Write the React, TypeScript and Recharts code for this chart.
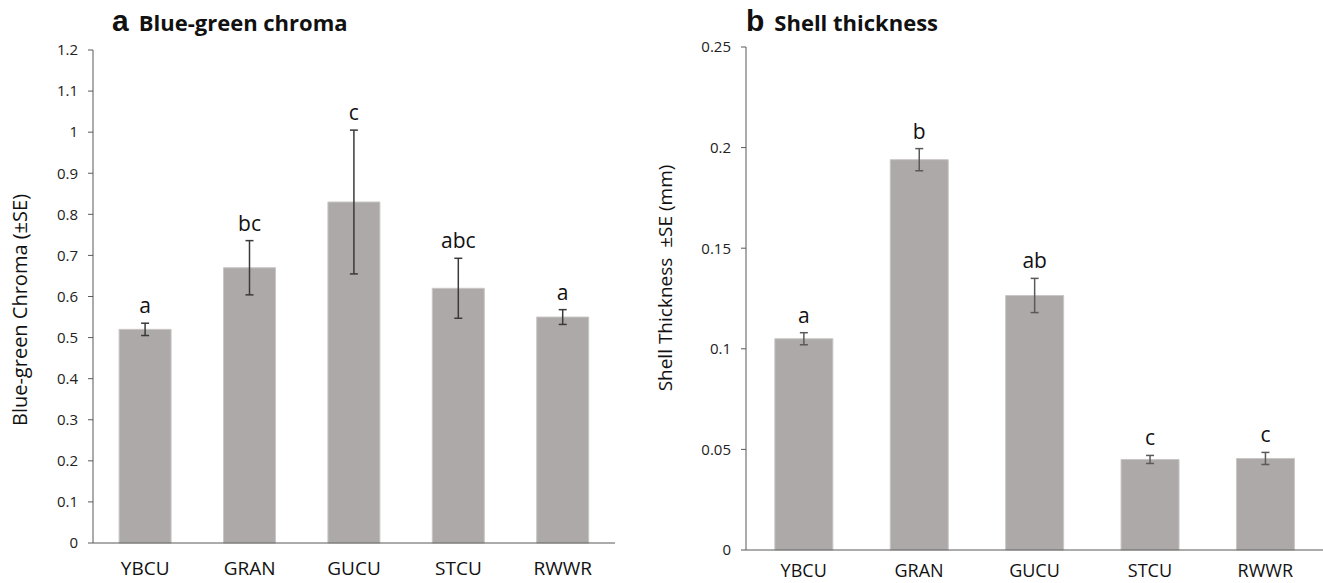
import { BarChart, Bar, XAxis, YAxis, ErrorBar, LabelList } from 'recharts';

const species = ['YBCU', 'GRAN', 'GUCU', 'STCU', 'RWWR'];

const chromaMean = [0.52, 0.67, 0.83, 0.62, 0.55];
const chromaSE = [0.015, 0.066, 0.175, 0.073, 0.018];
const chromaLetters = ['a', 'bc', 'c', 'abc', 'a'];
const chromaTicks = [0, 0.1, 0.2, 0.3, 0.4, 0.5, 0.6, 0.7, 0.8, 0.9, 1, 1.1, 1.2];

const shellMean = [0.105, 0.194, 0.1265, 0.045, 0.0455];
const shellSE = [0.003, 0.0055, 0.0085, 0.002, 0.003];
const shellLetters = ['a', 'b', 'ab', 'c', 'c'];
const shellTicks = [0, 0.05, 0.1, 0.15, 0.2, 0.25];

const FONT = '"Open Sans", "Noto Sans", sans-serif';
const BAR = '#ada9a8';
const AXIS = '#595959';

const chromaData = species.map((name, i) => ({
  name,
  v: chromaMean[i],
  se: chromaSE[i],
  letter: chromaLetters[i]
}));

const shellData = species.map((name, i) => ({
  name,
  v: shellMean[i],
  se: shellSE[i],
  letter: shellLetters[i]
}));

const fmt = (v: number) => String(Number(v.toFixed(2)));

// letter sits just above the error bar cap
function letterLabel(rows: any[]) {
  return (props: any) => {
    const { x, y, width, height, index } = props;
    const row = rows[index];
    if (!row) return null;
    const pxPerUnit = height / row.v;
    const top = y - row.se * pxPerUnit;
    return (
      <text
        x={x + width / 2}
        y={top - 10}
        textAnchor="middle"
        fontSize={21}
        fontFamily={FONT}
        fill="#111"
      >
        {row.letter}
      </text>
    );
  };
}

function Panel({ data, ticks, top, right, xTickMargin, xHeight, yWidth, width, errColor, border, xFont }: any) {
  const max = ticks[ticks.length - 1];
  return (
    <BarChart
      width={width}
      height={583}
      data={data}
      margin={{ top, right, bottom: 0, left: 0 }}
      barCategoryGap="25%"
    >
      <XAxis
        dataKey="name"
        height={xHeight}
        tickLine={false}
        tickSize={0}
        tickMargin={xTickMargin}
        stroke={AXIS}
        tick={{ fill: '#111', fontSize: xFont, fontFamily: FONT }}
      />
      <YAxis
        width={yWidth}
        domain={[0, max]}
        ticks={ticks}
        tickFormatter={fmt}
        tickSize={5}
        tickMargin={10}
        stroke={AXIS}
        tick={{ fill: '#222', fontSize: 15, fontFamily: FONT }}
      />
      <XAxis xAxisId="top" orientation="top" dataKey="name" height={0} tick={false} tickLine={false} stroke={AXIS} />
      {border && (
        <YAxis yAxisId="right" orientation="right" width={0} domain={[0, max]} tick={false} tickLine={false} stroke={AXIS} />
      )}
      <Bar dataKey="v" fill={BAR} stroke="#c9c6c5" strokeWidth={1} isAnimationActive={false}>
        <ErrorBar dataKey="se" width={4} strokeWidth={1.5} stroke={errColor} />
        <LabelList dataKey="letter" content={letterLabel(data)} />
      </Bar>
    </BarChart>
  );
}

export default function App() {
  return (
    <div style={{ position: 'absolute', left: 0, top: 0, width: 1323, height: 583, background: '#fff', fontFamily: FONT }}>
      <div style={{ position: 'absolute', left: 0, top: 0 }}>
        <Panel data={chromaData} ticks={chromaTicks} top={50} right={25} xTickMargin={19} xHeight={40} yWidth={93} width={640} errColor="#3a3a3a" border xFont={19} />
      </div>
      <div style={{ position: 'absolute', left: 640, top: 0 }}>
        <Panel data={shellData} ticks={shellTicks} top={47} right={0} xTickMargin={14} xHeight={33} yWidth={106} width={683} errColor="#5a5a5a" border={false} xFont={18} />
      </div>

      <div style={{ position: 'absolute', left: 112, top: 4, display: 'flex', alignItems: 'baseline', gap: 10, fontWeight: 700, color: '#111' }}>
        <span style={{ fontFamily: 'Arial, "Liberation Sans", sans-serif', fontSize: 30 }}>a</span>
        <span style={{ fontSize: 22 }}>Blue-green chroma</span>
      </div>
      <div style={{ position: 'absolute', left: 746, top: 4, display: 'flex', alignItems: 'baseline', gap: 10, fontWeight: 700, color: '#111' }}>
        <span style={{ fontFamily: 'Arial, "Liberation Sans", sans-serif', fontSize: 30 }}>b</span>
        <span style={{ fontSize: 22 }}>Shell thickness</span>
      </div>

      <div style={{ position: 'absolute', left: 19, top: 310, transform: 'translate(-50%, -50%) rotate(-90deg)', whiteSpace: 'pre', fontSize: 20, color: '#111' }}>
        Blue-green Chroma (±SE)
      </div>
      <div style={{ position: 'absolute', left: 665, top: 278, transform: 'translate(-50%, -50%) rotate(-90deg)', whiteSpace: 'pre', fontSize: 19, color: '#111' }}>
        {'Shell Thickness  ±SE (mm)'}
      </div>
    </div>
  );
}
